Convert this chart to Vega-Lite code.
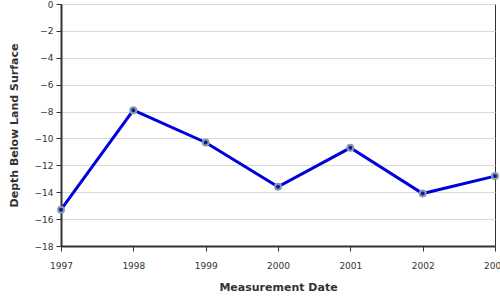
{
  "$schema": "https://vega.github.io/schema/vega-lite/v6.json",
  "width": 434,
  "height": 242,
  "autosize": {"type": "none"},
  "padding": {"left": 61, "top": 4, "right": 5, "bottom": 54},
  "background": "white",
  "config": {
    "font": "DejaVu Sans",
    "view": {"stroke": "#333333", "strokeWidth": 1},
    "axis": {
      "domainColor": "#333333",
      "domainWidth": 2,
      "tickColor": "#333333",
      "tickSize": 5,
      "labelColor": "#333333",
      "labelFont": "DejaVu Sans",
      "labelFontSize": 9,
      "titleFont": "DejaVu Sans",
      "titleFontSize": 11,
      "titleFontWeight": "bold",
      "titleColor": "#333333",
      "gridColor": "#d9d9d9",
      "gridWidth": 1
    }
  },
  "data": {
    "values": [
      {"year": 1997, "depth": -15.3},
      {"year": 1998, "depth": -7.9},
      {"year": 1999, "depth": -10.3},
      {"year": 2000, "depth": -13.6},
      {"year": 2001, "depth": -10.7},
      {"year": 2002, "depth": -14.1},
      {"year": 2003, "depth": -12.8}
    ]
  },
  "encoding": {
    "x": {
      "field": "year",
      "type": "quantitative",
      "scale": {"domain": [1997, 2003], "nice": false, "zero": false},
      "axis": {
        "title": "Measurement Date",
        "format": "d",
        "values": [1997, 1998, 1999, 2000, 2001, 2002, 2003],
        "grid": false,
        "labelPadding": 10,
        "titlePadding": 11,
        "labelFlush": false,
        "labelOverlap": false
      }
    },
    "y": {
      "field": "depth",
      "type": "quantitative",
      "scale": {"domain": [-18, 0], "nice": false, "zero": false},
      "axis": {
        "title": "Depth Below Land Surface",
        "values": [0, -2, -4, -6, -8, -10, -12, -14, -16, -18],
        "grid": true,
        "labelPadding": 3,
        "titlePadding": 15
      }
    }
  },
  "layer": [
    {
      "mark": {"type": "line", "color": "#0000dd", "strokeWidth": 3}
    },
    {
      "mark": {
        "type": "point",
        "filled": true,
        "fill": "#0a1f8f",
        "stroke": "#8a9bb0",
        "strokeWidth": 2,
        "size": 36,
        "opacity": 1
      }
    }
  ]
}
